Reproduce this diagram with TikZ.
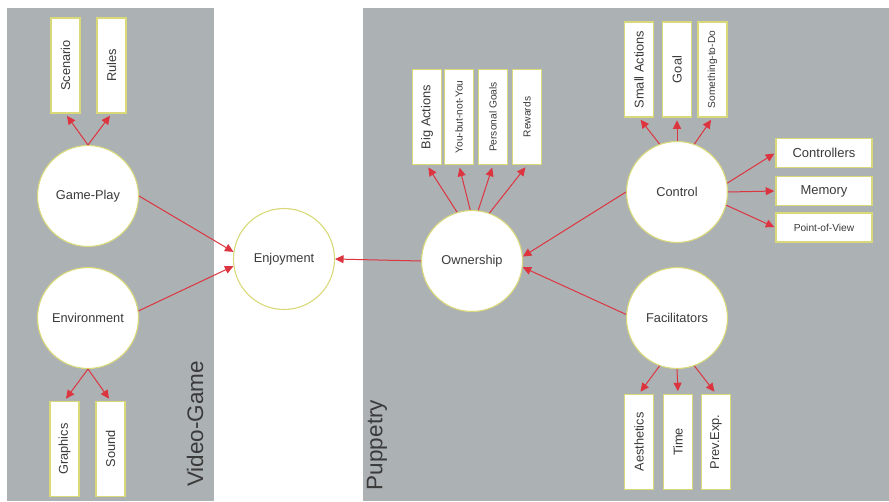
\documentclass[tikz,border=0pt]{standalone}
\usepackage{fontspec}
\setmainfont{Liberation Sans}
\usetikzlibrary{arrows.meta}
\definecolor{panelgray}{HTML}{ACB1B4}
\definecolor{rimyellow}{HTML}{D9D97A}
\definecolor{arrowred}{HTML}{DD3540}
\definecolor{inkgray}{HTML}{3A3A3A}

\begin{document}
\begin{tikzpicture}[x=1pt,y=-1pt,
  hub/.style={circle, draw=rimyellow, line width=1.1pt, fill=white,
    minimum size=101pt, inner sep=0pt, text=inkgray,
    font=\fontsize{12.8}{14}\selectfont},
  tallbox/.style={rectangle, draw=rimyellow, line width=1.6pt, fill=white,
    minimum width=29pt, minimum height=95pt, inner sep=0pt, text=inkgray,
    font=\fontsize{12.8}{14}\selectfont},
  widebox/.style={rectangle, draw=rimyellow, line width=1.6pt, fill=white,
    minimum width=96pt, minimum height=29pt, inner sep=0pt, text=inkgray,
    font=\fontsize{13}{14}\selectfont},
  small/.style={font=\fontsize{10.2}{12}\selectfont},
  link/.style={draw=arrowred, line width=1pt,
    -{Triangle[length=8.5pt,width=8pt]}, shorten >=2.5pt},
  sidelabel/.style={text=inkgray, font=\fontsize{22.5}{26}\selectfont, inner sep=0pt}]

% canvas and the two grey panels
\useasboundingbox (0,0) rectangle (889,501);
\fill[white] (0,0) rectangle (889,501);
\fill[panelgray] (7,8) rectangle (214,501);
\fill[panelgray] (363,8) rectangle (889,501);

% panel captions
\node[sidelabel] (vg) at (195,424) {\rotatebox{90}{Video-Game}};
\node[sidelabel] (pup) at (377,445) {\rotatebox{90}{Puppetry}};

% hubs
\node[hub] (gp)   at (88,196)  {Game-Play};
\node[hub] (env)  at (88,318)  {Environment};
\node[hub] (enj)  at (284,259) {Enjoyment};
\node[hub] (own)  at (472,261) {Ownership};
\node[hub] (ctrl) at (677,192) {Control};
\node[hub] (fac)  at (677,318) {Facilitators};

% video-game leaves
\node[tallbox] (scen) at (65.5,65.5) {\rotatebox{90}{Scenario}};
\node[tallbox] (rules) at (111.5,65.5) {\rotatebox{90}{Rules}};
\node[tallbox] (gfx) at (64.5,449) {\rotatebox{90}{Graphics}};
\node[tallbox] (snd) at (110.5,449) {\rotatebox{90}{Sound}};

% ownership leaves
\node[tallbox] (big) at (427,117) {\rotatebox{90}{Big Actions}};
\node[tallbox, small] (ybny) at (459,117) {\rotatebox{90}{You-but-not-You}};
\node[tallbox, small] (pgoal) at (493,117) {\rotatebox{90}{Personal Goals}};
\node[tallbox, small] (rew) at (527,117) {\rotatebox{90}{Rewards}};

% control leaves
\node[tallbox] (smact) at (639,69.5) {\rotatebox{90}{Small Actions}};
\node[tallbox] (goal) at (677,69.5) {\rotatebox{90}{Goal}};
\node[tallbox, small] (todo) at (712.5,69.5) {\rotatebox{90}{Something-to-Do}};
\node[widebox] (cont) at (824,153) {Controllers};
\node[widebox] (mem) at (824,191) {Memory};
\node[widebox, small] (pov) at (824,227.5) {Point-of-View};

% facilitator leaves
\node[tallbox] (aes) at (639,442) {\rotatebox{90}{Aesthetics}};
\node[tallbox] (time) at (678,442) {\rotatebox{90}{Time}};
\node[tallbox] (prev) at (716,442) {\rotatebox{90}{Prev.Exp.}};

% connectors
\draw[link] (gp.north) -- (scen.south);
\draw[link] (gp.north) -- (rules.south);
\draw[link] (env.south) -- (gfx.north);
\draw[link] (env.south) -- (snd.north);
\draw[link, shorten >=0pt] (gp.east) -- (enj.172);
\draw[link, shorten >=0pt] (env.8) -- (enj.188);
\draw[link, shorten >=0pt] (own.west) -- (enj.east);

\draw[link] (own.107) -- (big.south);
\draw[link] (own.92) -- (ybny.south);
\draw[link] (own.83) -- (pgoal.south);
\draw[link] (own.70) -- (rew.south);

\draw[link, shorten >=0pt] (ctrl.west) -- (own.5);
\draw[link, shorten >=0pt] (fac.176) -- (own.-7);

\draw[link] (ctrl.110) -- (smact.south);
\draw[link] (ctrl.north) -- (goal.south);
\draw[link] (ctrl.70) -- (todo.south);
\draw[link, shorten >=1pt] (ctrl.10) -- (cont.west);
\draw[link, shorten >=1pt] (ctrl.east) -- (mem.west);
\draw[link, shorten >=1pt] (ctrl.-15) -- (pov.west);

\draw[link] (fac.-110) -- (aes.north);
\draw[link] (fac.south) -- (time.north);
\draw[link] (fac.-70) -- (prev.north);
\end{tikzpicture}
\end{document}
